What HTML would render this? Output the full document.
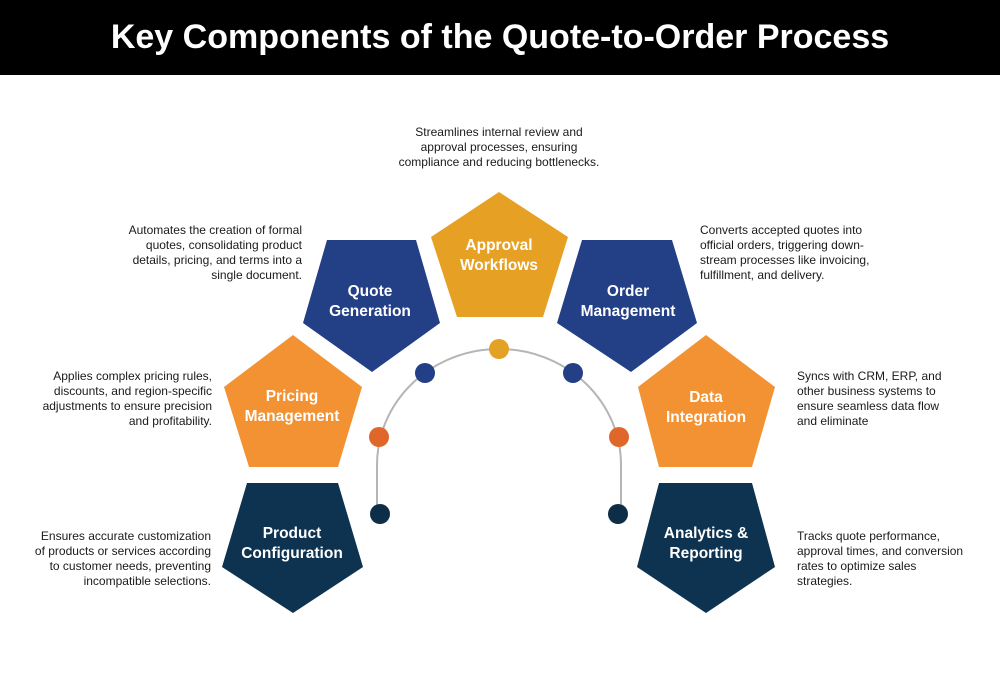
<!DOCTYPE html>
<html><head><meta charset="utf-8"><style>
html,body{margin:0;padding:0;background:#fff;}
svg{display:block;}
.d{font-family:"Liberation Sans",sans-serif;font-size:12px;fill:#1a1a1a;}
.t{font-family:"Liberation Sans",sans-serif;font-size:15.5px;font-weight:bold;fill:#fff;text-anchor:middle;}
</style></head><body>
<svg width="1000" height="678" viewBox="0 0 1000 678" xmlns="http://www.w3.org/2000/svg">
<rect x="0" y="0" width="1000" height="75" fill="#000"/>
<text x="500" y="48" text-anchor="middle" font-family="Liberation Sans, sans-serif" font-size="34" font-weight="bold" fill="#fff">Key Components of the Quote-to-Order Process</text>

<path d="M377,514 L377,465 A122,116 0 0 1 621,465 L621,514" fill="none" stroke="#b5b5b5" stroke-width="2"/>

<polygon points="499,192 568,237 543,317 457,317 431,237" fill="#e6a024"/>
<polygon points="327,240 416,240 440,323 372,372 303,323" fill="#233f86"/>
<polygon points="582,240 672,240 697,323 631,372 557,323" fill="#233f86"/>
<polygon points="293,335 362,387 338,467 249,467 224,387" fill="#f39232"/>
<polygon points="706,335 775,387 752,467 659,467 638,387" fill="#f39232"/>
<polygon points="247,483 338,483 363,567 293,613 222,567" fill="#0d3350"/>
<polygon points="659,483 752,483 775,567 706,613 637,567" fill="#0d3350"/>

<circle cx="499" cy="349" r="10" fill="#e3a225"/>
<circle cx="425" cy="373" r="10" fill="#233f86"/>
<circle cx="573" cy="373" r="10" fill="#233f86"/>
<circle cx="379" cy="437" r="10" fill="#e0672a"/>
<circle cx="619" cy="437" r="10" fill="#e0672a"/>
<circle cx="380" cy="514" r="10" fill="#0e2e48"/>
<circle cx="618" cy="514" r="10" fill="#0e2e48"/>

<text class="t" x="499" y="250">Approval</text><text class="t" x="499" y="270">Workflows</text>
<text class="t" x="370" y="296">Quote</text><text class="t" x="370" y="316">Generation</text>
<text class="t" x="628" y="296">Order</text><text class="t" x="628" y="316">Management</text>
<text class="t" x="292" y="401">Pricing</text><text class="t" x="292" y="421">Management</text>
<text class="t" x="706" y="402">Data</text><text class="t" x="706" y="422">Integration</text>
<text class="t" x="292" y="538">Product</text><text class="t" x="292" y="558">Configuration</text>
<text class="t" x="706" y="538">Analytics &amp;</text><text class="t" x="706" y="558">Reporting</text>

<g class="d" text-anchor="middle">
<text x="499" y="136">Streamlines internal review and</text>
<text x="499" y="151">approval processes, ensuring</text>
<text x="499" y="166">compliance and reducing bottlenecks.</text>
</g>
<g class="d" text-anchor="end">
<text x="302" y="234">Automates the creation of formal</text>
<text x="302" y="249">quotes, consolidating product</text>
<text x="302" y="264">details, pricing, and terms into a</text>
<text x="302" y="279">single document.</text>
<text x="212" y="380">Applies complex pricing rules,</text>
<text x="212" y="395">discounts, and region-specific</text>
<text x="212" y="410">adjustments to ensure precision</text>
<text x="212" y="425">and profitability.</text>
<text x="211" y="540">Ensures accurate customization</text>
<text x="211" y="555">of products or services according</text>
<text x="211" y="570">to customer needs, preventing</text>
<text x="211" y="585">incompatible selections.</text>
</g>
<g class="d" text-anchor="start">
<text x="700" y="234">Converts accepted quotes into</text>
<text x="700" y="249">official orders, triggering down-</text>
<text x="700" y="264">stream processes like invoicing,</text>
<text x="700" y="279">fulfillment, and delivery.</text>
<text x="797" y="380">Syncs with CRM, ERP, and</text>
<text x="797" y="395">other business systems to</text>
<text x="797" y="410">ensure seamless data flow</text>
<text x="797" y="425">and eliminate</text>
<text x="797" y="540">Tracks quote performance,</text>
<text x="797" y="555">approval times, and conversion</text>
<text x="797" y="570">rates to optimize sales</text>
<text x="797" y="585">strategies.</text>
</g>
</svg>
</body></html>
